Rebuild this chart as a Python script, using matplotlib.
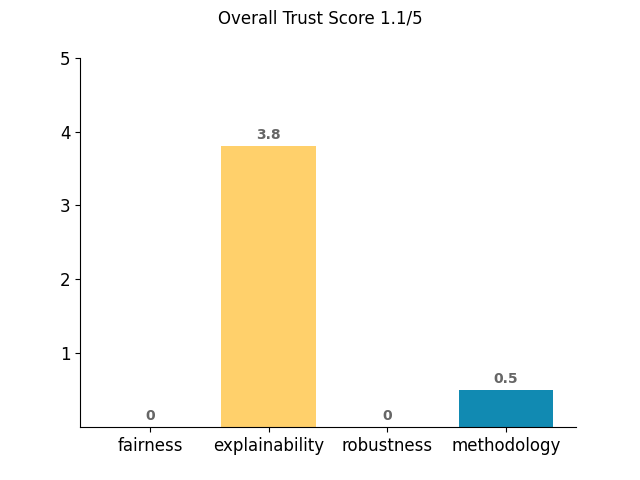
import matplotlib
matplotlib.use("Agg")
import matplotlib.pyplot as plt

# pillar scores
pillars = ["fairness", "explainability", "robustness", "methodology"]
scores = [0, 3.8, 0, 0.5]
colors = ["#EF476F", "#FFD06B", "#06D6A0", "#118AB2"]
overall = 1.1

fig, ax = plt.subplots(figsize=(6.4, 4.8), dpi=100)
fig.suptitle("Overall Trust Score {}/5".format(overall), fontsize=12)

bars = ax.bar(pillars, scores, color=colors, width=0.8)
for b, s in zip(bars, scores):
    ax.annotate("{:g}".format(s), (b.get_x() + b.get_width() / 2, b.get_height()),
                xytext=(0, 3), textcoords="offset points", ha="center", va="bottom",
                fontsize=10, fontweight="bold", color="#666666")

ax.set_ylim(0, 5)
ax.set_yticks([1, 2, 3, 4, 5])
ax.tick_params(axis="both", labelsize=12)
ax.spines["top"].set_visible(False)
ax.spines["right"].set_visible(False)

fig.savefig("out.png")
